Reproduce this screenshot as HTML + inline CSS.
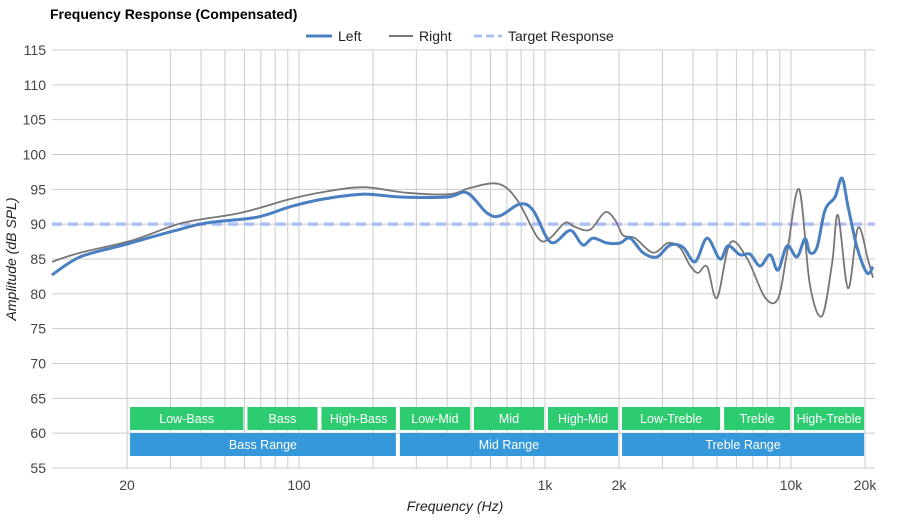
<!DOCTYPE html>
<html><head><meta charset="utf-8"><style>
body{margin:0;background:#fff;font-family:"Liberation Sans",Arial,sans-serif}
svg text{font-family:"Liberation Sans",Arial,sans-serif}
</style></head><body>
<svg id="chart" width="900" height="520" xmlns="http://www.w3.org/2000/svg">
<text x="50" y="19" font-size="14" font-weight="bold" fill="#000">Frequency Response (Compensated)</text>
<g id="grid"></g><g id="bands"></g><g id="series"></g>
<g id="legend">
<line x1="306" y1="36" x2="332" y2="36" stroke="#4a7fc1" stroke-width="3"/>
<text x="338" y="41" font-size="14" fill="#222">Left</text>
<line x1="389" y1="36" x2="413" y2="36" stroke="#777" stroke-width="2"/>
<text x="419" y="41" font-size="14" fill="#222">Right</text>
<line x1="474" y1="36" x2="502" y2="36" stroke="#b0c0f5" stroke-width="3" stroke-dasharray="8,4"/>
<text x="508" y="41" font-size="14" fill="#222">Target Response</text>
</g>
<text transform="translate(16,259) rotate(-90)" text-anchor="middle" font-size="14" font-style="italic" fill="#222">Amplitude (dB SPL)</text>
<text x="455" y="511" text-anchor="middle" font-size="14" font-style="italic" fill="#222">Frequency (Hz)</text>
</svg>
<script>
const yTicks=[55,60,65,70,75,80,85,90,95,100,105,110,115];
const xGrid=[20,30,40,50,60,70,80,90,100,200,300,400,500,600,700,800,900,1000,2000,3000,4000,5000,6000,7000,8000,9000,10000,20000];
const xLabels=[20,100,1000,2000,10000,20000];
const xLabelText=["20","100","1k","2k","10k","20k"];
const leftFreq=[9.9,12.9,19.3,30.8,42.3,67.5,91.9,125,182,257,400,482,581,656,791,894,1019,1099,1228,1300,1427,1567,1786,2018,2218,2503,2853,3222,3640,4074,4560,5140,5546,6209,6810,7482,8220,8854,9638,10570,11400,11940,12760,13750,15100,16120,17060,18550,20360,21540];
const leftDb=[82.7,85.3,87.0,89.0,90.2,91.0,92.5,93.6,94.3,93.9,93.9,94.5,91.6,91.2,92.9,92.0,88.0,87.4,88.9,88.9,87.0,88.0,87.3,87.3,88.0,85.9,85.3,87.0,86.7,84.6,88.0,85.0,86.9,85.6,85.7,84.0,85.6,83.4,86.9,85.3,87.9,85.9,86.7,92.0,93.9,96.6,92.5,86.7,83.0,83.9];
const rightFreq=[9.9,12.9,21.1,33.8,57.5,91.9,125,182,275,411,496,644,770,937,1048,1206,1325,1524,1753,1927,2077,2324,2750,3162,3540,3883,4188,4560,5004,5653,6625,7835,8854,9638,10790,11940,13360,14690,15530,17060,18720,20560,21540];
const rightDb=[84.6,85.9,87.7,90.2,91.6,93.6,94.6,95.3,94.5,94.3,95.2,95.8,93.5,88.0,88.0,90.2,89.6,89.2,91.7,90.6,88.4,88.0,85.9,87.3,86.6,84.1,83.0,83.9,79.4,87.3,85.1,79.5,79.3,85.9,95.0,81.3,76.8,84.4,91.3,80.8,89.5,84.9,82.3];
const targetDb=90;
const bandNames=["Low-Bass","Bass","High-Bass","Low-Mid","Mid","High-Mid","Low-Treble","Treble","High-Treble"];
const bandEdges=[20,60,120,250,500,1000,2000,5200,10000,20000];
const rangeNames=["Bass Range","Mid Range","Treble Range"];
const rangeEdges=[20,250,2000,20000];

const X0=52,X1=875,Y0=50,Y1=468;
const xs=f=>299+246*(Math.log10(f)-2);
const ys=v=>Y1-(v-55)*(Y1-Y0)/60;
const NS="http://www.w3.org/2000/svg";
function mk(tag,attrs,parent,text){const e=document.createElementNS(NS,tag);for(const k in attrs)e.setAttribute(k,attrs[k]);if(text!==undefined)e.textContent=text;parent.appendChild(e);return e;}
const grid=document.getElementById('grid');
yTicks.forEach(v=>{
  const l=mk('line',{x1:X0,x2:X1,y1:ys(v),y2:ys(v),stroke:'#ccc','stroke-width':1},grid);
  
  
  const t=mk('text',{x:46,y:ys(v)+5,'text-anchor':'end','font-size':14,fill:'#444'},grid,String(v));
  
  
});
xGrid.forEach(f=>{
  const l=mk('line',{x1:xs(f),x2:xs(f),y1:Y0,y2:Y1,stroke:'#ccc','stroke-width':1},grid);
  
  
});
xLabels.forEach((f,i)=>{
  const t=mk('text',{x:xs(f),y:490,'text-anchor':'middle','font-size':14,fill:'#444'},grid,xLabelText[i]);
  
  
});
const bands=document.getElementById('bands');
bandNames.forEach((n,i)=>{
  const a=xs(bandEdges[i])+3,b=xs(bandEdges[i+1])-1;
  const r=mk('rect',{x:a,y:407,width:b-a,height:23,fill:'#2ecc71'},bands);
  
  
  const t=mk('text',{x:(a+b)/2,y:423,'text-anchor':'middle','font-size':12.5,fill:'#fff'},bands,n);
  
  
});
rangeNames.forEach((n,i)=>{
  const a=xs(rangeEdges[i])+3,b=xs(rangeEdges[i+1])-1;
  const r=mk('rect',{x:a,y:433,width:b-a,height:23,fill:'#3498db'},bands);
  
  
  const t=mk('text',{x:(a+b)/2,y:449,'text-anchor':'middle','font-size':12.5,fill:'#fff'},bands,n);
  
  
});
function smooth(fs,ds){
  const p=fs.map((f,i)=>[xs(f),ys(ds[i])]);
  let d='M'+p[0][0].toFixed(1)+','+p[0][1].toFixed(1);
  for(let i=0;i<p.length-1;i++){
    const p0=p[i-1]||p[i],p1=p[i],p2=p[i+1],p3=p[i+2]||p2;
    const c1=[p1[0]+(p2[0]-p0[0])/6,p1[1]+(p2[1]-p0[1])/6];
    const c2=[p2[0]-(p3[0]-p1[0])/6,p2[1]-(p3[1]-p1[1])/6];
    d+=' C'+c1.map(v=>v.toFixed(1))+' '+c2.map(v=>v.toFixed(1))+' '+p2.map(v=>v.toFixed(1));
  }
  return d;
}
const ser=document.getElementById('series');
const tl=mk('line',{x1:X0,x2:X1,y1:ys(targetDb),y2:ys(targetDb),stroke:'#b0c0f5','stroke-width':3.5,'stroke-dasharray':'10,6'},ser);


const rp=mk('path',{d:smooth(rightFreq,rightDb),fill:'none',stroke:'#777','stroke-width':1.8},ser);


const lp=mk('path',{d:smooth(leftFreq,leftDb),fill:'none',stroke:'#4a7fc1','stroke-width':3},ser);


</script>
</body></html>
